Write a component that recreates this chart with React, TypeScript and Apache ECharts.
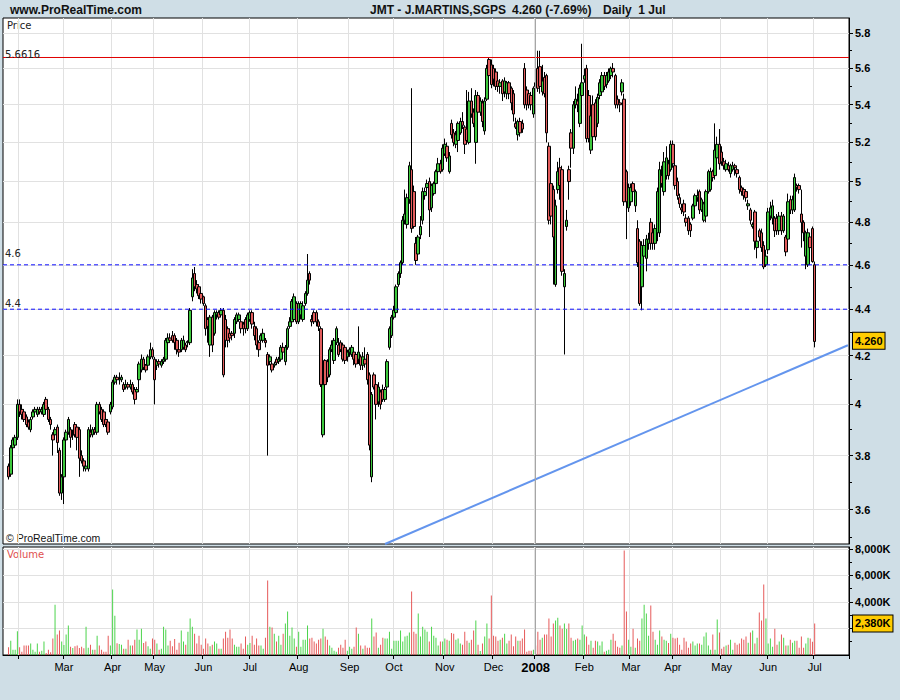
import { useEffect, useRef } from "react";
import * as echarts from "echarts";

// Daily sessions, one row each: [open, close, low, high]
const jan07 = [
  [3.76, 3.72, 3.71, 3.77], [3.73, 3.83, 3.72, 3.84], [3.83, 3.86, 3.82, 3.87], [3.84, 3.87, 3.83, 3.88], [3.87, 4.0, 3.86, 4.02],
];
const feb07 = [
  [4.0, 3.97, 3.95, 4.02], [3.98, 3.96, 3.94, 4.0], [3.97, 3.94, 3.93, 3.98], [3.95, 3.92, 3.91, 3.96], [3.93, 3.91, 3.9, 3.94],
  [3.9, 3.94, 3.89, 3.95], [3.95, 3.97, 3.94, 3.98], [3.97, 3.98, 3.96, 3.99], [3.96, 3.98, 3.95, 3.99], [3.98, 3.97, 3.96, 3.99],
  [3.97, 3.98, 3.96, 3.99], [3.96, 4.0, 3.95, 4.01], [4.02, 3.98, 3.97, 4.03], [3.98, 3.94, 3.93, 3.99], [3.94, 3.92, 3.9, 3.95],
  [3.88, 3.86, 3.8, 3.89], [3.88, 3.9, 3.86, 3.91], [3.91, 3.85, 3.81, 3.92], [3.82, 3.66, 3.65, 3.83], [3.66, 3.72, 3.635, 3.73],
];
const mar07 = [
  [3.72, 3.86, 3.62, 3.87], [3.86, 3.89, 3.84, 3.9], [3.89, 3.94, 3.88, 3.95], [3.9, 3.87, 3.83, 3.91], [3.88, 3.88, 3.86, 3.9],
  [3.92, 3.88, 3.87, 3.93], [3.91, 3.87, 3.82, 3.92], [3.9, 3.79, 3.72, 3.91], [3.8, 3.78, 3.77, 3.82], [3.78, 3.76, 3.74, 3.79],
  [3.75, 3.76, 3.74, 3.77], [3.75, 3.9, 3.74, 3.91], [3.89, 3.88, 3.87, 3.92], [3.88, 3.9, 3.87, 3.91], [3.9, 3.89, 3.88, 3.91],
  [3.89, 4.0, 3.88, 4.01], [4.0, 3.97, 3.96, 4.01], [3.98, 3.94, 3.93, 3.99], [3.97, 3.92, 3.91, 3.98], [3.94, 3.92, 3.91, 3.95],
  [3.93, 3.89, 3.88, 3.94], [3.97, 4.0, 3.96, 4.01],
];
const apr07 = [
  [3.99, 4.09, 3.98, 4.1], [4.09, 4.11, 4.08, 4.12], [4.11, 4.1, 4.08, 4.12], [4.1, 4.105, 4.08, 4.13], [4.1, 4.11, 4.09, 4.12],
  [4.08, 4.06, 4.05, 4.09], [4.07, 4.08, 4.06, 4.1], [4.08, 4.07, 4.06, 4.09], [4.07, 4.08, 4.06, 4.1], [4.08, 4.05, 4.04, 4.09],
  [4.06, 4.02, 4.0, 4.07], [4.05, 4.06, 4.04, 4.07], [4.1, 4.165, 4.06, 4.175], [4.14, 4.185, 4.13, 4.205], [4.185, 4.15, 4.14, 4.195],
  [4.16, 4.14, 4.13, 4.165], [4.16, 4.195, 4.15, 4.205], [4.195, 4.225, 4.185, 4.255], [4.225, 4.195, 4.185, 4.235],
];
const may07 = [
  [4.185, 4.1, 4.0, 4.195], [4.16, 4.175, 4.14, 4.185], [4.175, 4.165, 4.15, 4.185], [4.16, 4.175, 4.15, 4.185], [4.175, 4.185, 4.165, 4.195],
  [4.185, 4.265, 4.175, 4.275], [4.255, 4.275, 4.245, 4.295], [4.275, 4.265, 4.255, 4.295], [4.285, 4.265, 4.255, 4.305], [4.285, 4.255, 4.225, 4.295],
  [4.265, 4.225, 4.205, 4.275], [4.225, 4.215, 4.195, 4.235], [4.225, 4.265, 4.215, 4.275], [4.235, 4.265, 4.225, 4.285], [4.245, 4.225, 4.215, 4.255],
  [4.255, 4.26, 4.235, 4.265], [4.255, 4.395, 4.245, 4.405], [4.455, 4.54, 4.435, 4.58], [4.56, 4.5, 4.48, 4.59], [4.51, 4.49, 4.47, 4.53],
  [4.5, 4.46, 4.445, 4.51], [4.47, 4.445, 4.425, 4.48],
];
const jun07 = [
  [4.455, 4.425, 4.415, 4.46], [4.415, 4.315, 4.285, 4.425], [4.355, 4.325, 4.255, 4.365], [4.245, 4.365, 4.195, 4.375], [4.365, 4.245, 4.215, 4.375],
  [4.295, 4.385, 4.285, 4.395], [4.375, 4.385, 4.355, 4.395], [4.385, 4.365, 4.355, 4.395], [4.375, 4.395, 4.365, 4.405], [4.395, 4.12, 4.11, 4.405],
  [4.355, 4.265, 4.235, 4.375], [4.315, 4.265, 4.235, 4.325], [4.295, 4.275, 4.255, 4.315], [4.295, 4.285, 4.265, 4.305], [4.295, 4.355, 4.275, 4.365],
  [4.345, 4.375, 4.335, 4.385], [4.355, 4.375, 4.345, 4.385], [4.345, 4.315, 4.295, 4.365], [4.335, 4.315, 4.285, 4.345], [4.355, 4.315, 4.295, 4.365],
  [4.315, 4.375, 4.305, 4.385],
];
const jul07 = [
  [4.355, 4.385, 4.345, 4.395], [4.385, 4.335, 4.315, 4.395], [4.325, 4.285, 4.265, 4.345], [4.315, 4.245, 4.225, 4.325], [4.255, 4.225, 4.195, 4.265],
  [4.265, 4.285, 4.255, 4.295], [4.265, 4.295, 4.255, 4.315], [4.265, 4.255, 4.235, 4.275], [4.205, 4.16, 3.8, 4.215], [4.175, 4.195, 4.16, 4.205],
  [4.165, 4.14, 4.13, 4.175], [4.16, 4.165, 4.15, 4.175], [4.185, 4.17, 4.16, 4.195], [4.175, 4.185, 4.165, 4.195], [4.185, 4.235, 4.175, 4.245],
  [4.235, 4.215, 4.195, 4.255], [4.175, 4.235, 4.16, 4.245], [4.235, 4.315, 4.225, 4.325], [4.325, 4.345, 4.315, 4.365], [4.345, 4.435, 4.335, 4.445],
  [4.355, 4.455, 4.345, 4.47], [4.425, 4.345, 4.335, 4.435],
];
const aug07 = [
  [4.345, 4.425, 4.335, 4.435], [4.375, 4.425, 4.355, 4.435], [4.355, 4.415, 4.345, 4.435], [4.425, 4.47, 4.415, 4.48], [4.47, 4.53, 4.46, 4.65],
  [4.56, 4.53, 4.51, 4.57], [4.355, 4.345, 4.325, 4.375], [4.385, 4.345, 4.335, 4.395], [4.385, 4.345, 4.325, 4.395], [4.345, 4.325, 4.305, 4.355],
  [4.315, 4.08, 4.07, 4.325], [3.88, 4.08, 3.87, 4.09], [4.18, 4.08, 4.06, 4.185], [4.175, 4.11, 4.09, 4.185], [4.12, 4.225, 4.11, 4.235],
  [4.225, 4.245, 4.215, 4.265], [4.18, 4.265, 4.165, 4.275], [4.255, 4.315, 4.245, 4.325], [4.245, 4.205, 4.195, 4.275], [4.255, 4.225, 4.215, 4.265],
  [4.245, 4.185, 4.175, 4.255], [4.235, 4.18, 4.165, 4.245], [4.195, 4.215, 4.175, 4.225],
];
const sep07 = [
  [4.215, 4.225, 4.195, 4.235], [4.205, 4.235, 4.195, 4.245], [4.215, 4.185, 4.16, 4.225], [4.205, 4.165, 4.15, 4.215], [4.185, 4.215, 4.165, 4.325],
  [4.195, 4.16, 4.14, 4.205], [4.16, 4.195, 4.14, 4.215], [4.185, 4.165, 4.15, 4.235], [4.205, 4.1, 4.08, 4.215], [4.12, 3.84, 3.82, 4.13],
  [3.72, 4.04, 3.7, 4.05], [4.12, 4.07, 4.06, 4.13], [4.08, 4.0, 3.94, 4.09], [4.01, 4.07, 3.99, 4.09], [4.05, 4.0, 3.98, 4.06],
  [4.06, 4.02, 4.01, 4.08], [4.02, 4.06, 4.01, 4.07], [4.07, 4.175, 4.06, 4.185], [4.235, 4.315, 4.225, 4.325], [4.285, 4.365, 4.275, 4.375],
];
const oct07 = [
  [4.365, 4.395, 4.355, 4.415], [4.385, 4.5, 4.375, 4.51], [4.51, 4.56, 4.5, 4.57], [4.56, 4.61, 4.54, 4.62], [4.61, 4.81, 4.6, 4.83],
  [4.81, 4.84, 4.79, 4.96], [4.79, 4.92, 4.77, 4.94], [4.91, 5.08, 4.89, 5.1], [5.06, 4.77, 4.75, 5.49], [4.95, 4.78, 4.77, 4.98],
  [4.7, 4.62, 4.6, 4.73], [4.65, 4.73, 4.63, 4.74], [4.74, 4.78, 4.72, 4.83], [4.81, 4.95, 4.79, 4.97], [4.93, 4.95, 4.91, 4.97],
  [4.97, 4.99, 4.95, 5.01], [5.0, 4.86, 4.73, 5.02], [4.87, 4.98, 4.85, 4.99], [4.94, 4.99, 4.93, 5.0], [4.99, 5.05, 4.98, 5.06],
  [5.05, 5.09, 5.03, 5.12], [5.09, 5.05, 5.04, 5.11], [5.06, 5.17, 5.05, 5.19],
];
const nov07 = [
  [5.14, 5.19, 5.13, 5.22], [5.18, 5.12, 5.1, 5.2], [5.05, 5.13, 5.04, 5.15], [5.3, 5.24, 5.22, 5.32], [5.25, 5.2, 5.18, 5.27],
  [5.19, 5.24, 5.17, 5.26], [5.21, 5.3, 5.15, 5.31], [5.25, 5.31, 5.24, 5.33], [5.31, 5.29, 5.27, 5.36], [5.28, 5.19, 5.14, 5.29],
  [5.27, 5.21, 5.19, 5.48], [5.2, 5.42, 5.19, 5.47], [5.42, 5.35, 5.33, 5.49], [5.36, 5.3, 5.28, 5.38], [5.2, 5.45, 5.09, 5.48],
  [5.45, 5.36, 5.34, 5.47], [5.36, 5.42, 5.34, 5.44], [5.41, 5.31, 5.28, 5.43], [5.26, 5.42, 5.24, 5.44], [5.43, 5.6, 5.42, 5.62],
  [5.65, 5.56, 5.54, 5.66], [5.62, 5.51, 5.49, 5.65],
];
const dec07 = [
  [5.6, 5.54, 5.5, 5.62], [5.58, 5.5, 5.48, 5.6], [5.53, 5.5, 5.47, 5.55], [5.5, 5.52, 5.46, 5.54], [5.53, 5.46, 5.42, 5.54],
  [5.47, 5.53, 5.44, 5.55], [5.46, 5.52, 5.43, 5.53], [5.52, 5.46, 5.43, 5.53], [5.49, 5.41, 5.37, 5.5], [5.46, 5.35, 5.31, 5.48],
  [5.3, 5.28, 5.27, 5.33], [5.24, 5.31, 5.21, 5.32], [5.31, 5.25, 5.23, 5.33], [5.3, 5.27, 5.25, 5.32], [5.6, 5.4, 5.38, 5.63],
  [5.48, 5.4, 5.37, 5.5], [5.46, 5.4, 5.38, 5.48], [5.45, 5.4, 5.37, 5.47], [5.35, 5.49, 5.33, 5.5],
];
const jan08 = [
  [5.52, 5.5, 5.48, 5.56], [5.6, 5.49, 5.47, 5.7], [5.61, 5.5, 5.46, 5.7], [5.47, 5.53, 5.45, 5.62], [5.55, 5.46, 5.44, 5.58],
  [5.56, 5.25, 5.2, 5.57], [5.18, 4.81, 4.79, 5.2], [4.99, 4.83, 4.79, 5.03], [4.96, 4.73, 4.51, 4.98], [4.51, 4.88, 4.5, 4.91],
  [4.96, 5.05, 4.94, 5.1], [5.07, 4.98, 4.91, 5.12], [5.06, 4.57, 4.55, 5.08], [4.5, 4.56, 4.205, 4.58], [4.78, 4.81, 4.76, 4.86],
  [5.06, 5.0, 4.91, 5.08], [5.25, 5.17, 5.07, 5.27], [5.17, 5.4, 5.14, 5.42], [5.4, 5.43, 5.38, 5.5], [5.42, 5.4, 5.36, 5.46],
  [5.3, 5.49, 5.28, 5.51], [5.45, 5.52, 5.43, 5.74],
];
const feb08 = [
  [5.54, 5.56, 5.52, 5.6], [5.6, 5.22, 5.2, 5.62], [5.45, 5.22, 5.2, 5.48], [5.16, 5.34, 5.14, 5.36], [5.4, 5.23, 5.2, 5.45],
  [5.41, 5.23, 5.21, 5.43], [5.3, 5.44, 5.28, 5.46], [5.45, 5.52, 5.43, 5.54], [5.47, 5.56, 5.45, 5.58], [5.56, 5.5, 5.48, 5.58],
  [5.51, 5.56, 5.49, 5.58], [5.53, 5.58, 5.52, 5.6], [5.56, 5.6, 5.54, 5.61], [5.6, 5.58, 5.55, 5.63], [5.56, 5.4, 5.38, 5.57],
  [5.43, 5.4, 5.38, 5.45], [5.41, 5.4, 5.36, 5.43], [5.47, 5.52, 5.45, 5.54], [5.43, 4.9, 4.88, 5.46], [5.05, 4.9, 4.72, 5.06],
  [4.87, 4.97, 4.85, 4.99],
];
const mar08 = [
  [4.9, 4.97, 4.88, 4.99], [4.99, 4.95, 4.93, 5.0], [4.88, 4.95, 4.85, 4.96], [4.77, 4.61, 4.59, 4.81], [4.71, 4.425, 4.415, 4.72],
  [4.5, 4.69, 4.395, 4.71], [4.64, 4.69, 4.59, 4.72], [4.63, 4.72, 4.57, 4.74], [4.7, 4.72, 4.67, 4.75], [4.8, 4.7, 4.67, 4.82],
  [4.75, 4.7, 4.67, 4.76], [4.7, 4.77, 4.67, 4.79], [4.75, 4.95, 4.71, 4.97], [4.75, 5.06, 4.73, 5.1], [5.03, 4.99, 4.97, 5.08],
  [4.95, 5.1, 4.93, 5.15], [5.03, 5.12, 5.01, 5.18], [5.09, 5.03, 5.01, 5.11], [5.06, 5.19, 5.05, 5.21],
];
const apr08 = [
  [5.19, 5.09, 5.07, 5.21], [5.08, 4.98, 4.96, 5.1], [5.0, 4.93, 4.91, 5.02], [4.92, 4.89, 4.87, 4.94], [4.87, 4.86, 4.84, 4.89],
  [4.89, 4.85, 4.83, 4.91], [4.82, 4.8, 4.78, 4.84], [4.82, 4.76, 4.74, 4.83], [4.79, 4.76, 4.73, 4.8], [4.82, 4.88, 4.81, 4.89],
  [4.88, 4.93, 4.87, 4.94], [4.92, 4.93, 4.9, 4.96], [4.95, 4.86, 4.84, 4.96], [4.86, 4.91, 4.85, 4.92], [4.81, 4.89, 4.8, 4.9],
  [4.83, 4.95, 4.8, 4.96], [4.95, 5.05, 4.94, 5.06], [4.96, 5.05, 4.95, 5.07], [5.05, 5.02, 5.0, 5.06], [5.03, 5.16, 5.01, 5.3],
  [5.12, 5.19, 5.11, 5.23], [5.19, 5.09, 5.06, 5.27],
];
const may08 = [
  [5.15, 5.1, 5.08, 5.18], [5.1, 5.08, 5.06, 5.12], [5.06, 5.09, 5.05, 5.11], [5.08, 5.06, 5.05, 5.1], [5.04, 5.08, 5.02, 5.09],
  [5.06, 5.08, 5.05, 5.1], [5.08, 5.07, 5.03, 5.09], [5.06, 5.04, 5.02, 5.07], [5.02, 4.96, 4.94, 5.03], [4.97, 4.95, 4.93, 4.98],
  [4.96, 4.93, 4.91, 4.97], [4.95, 4.92, 4.9, 4.96], [4.88, 4.89, 4.86, 4.91], [4.86, 4.81, 4.79, 4.87], [4.78, 4.79, 4.77, 4.8],
  [4.85, 4.71, 4.67, 4.86], [4.68, 4.71, 4.63, 4.73], [4.76, 4.73, 4.71, 4.77], [4.75, 4.68, 4.66, 4.77], [4.69, 4.59, 4.58, 4.71],
  [4.6, 4.64, 4.59, 4.67],
];
const jun08 = [
  [4.67, 4.85, 4.65, 4.87], [4.83, 4.87, 4.81, 4.9], [4.82, 4.88, 4.79, 4.91], [4.82, 4.76, 4.73, 4.83], [4.82, 4.76, 4.74, 4.84],
  [4.76, 4.83, 4.74, 4.85], [4.83, 4.76, 4.74, 4.85], [4.76, 4.83, 4.75, 4.84], [4.73, 4.66, 4.64, 4.74], [4.72, 4.9, 4.71, 4.94],
  [4.91, 4.86, 4.84, 4.93], [4.86, 4.91, 4.84, 4.93], [4.86, 5.02, 4.85, 5.04], [4.98, 4.97, 4.95, 4.99], [4.98, 4.96, 4.94, 4.99],
  [4.84, 4.8, 4.68, 4.96], [4.8, 4.75, 4.71, 4.81], [4.64, 4.75, 4.58, 4.76], [4.6, 4.75, 4.59, 4.77], [4.73, 4.68, 4.66, 4.74],
  [4.77, 4.615, 4.61, 4.78],
];
const jul08 = [[4.6, 4.26, 4.235, 4.615]];

// Session volumes, thousands of shares
const volJan07 = [580, 1080, 400, 400, 1790];
const volFeb07 = [580, 250, 710, 710, 710, 860, 400, 250, 860, 250, 330, 1010, 150, 400, 200, 1240, 3800, 1540, 1840, 1010];
const volMar07 = [760, 1540, 2220, 630, 530, 660, 710, 530, 630, 500, 2140, 550, 780, 400, 400, 1460, 710, 400, 250, 250, 1460, 710];
const volApr07 = [4940, 2970, 880, 830, 780, 480, 480, 1160, 710, 710, 1160, 1920, 1160, 1990, 910, 1010, 660, 480, 1240];
const volMay07 = [1160, 860, 400, 480, 2140, 1920, 710, 1080, 660, 1210, 400, 930, 1840, 1010, 780, 1760, 2750, 2140, 1610, 860, 1460, 780];
const volJun07 = [480, 1240, 860, 660, 780, 1010, 860, 480, 480, 1240, 1760, 1310, 1920, 1240, 780, 630, 630, 860, 480, 1390, 780];
const volJul07 = [910, 1460, 780, 1240, 710, 710, 480, 1310, 5620, 2140, 2070, 1610, 1010, 1460, 780, 1610, 2370, 3280, 1460, 2070, 1240, 630];
const volAug07 = [1760, 630, 1160, 1160, 2220, 1240, 1310, 1010, 860, 1160, 1240, 1990, 1390, 1160, 710, 550, 330, 250, 550, 780, 550, 1160, 330];
const volSep07 = [630, 480, 630, 2070, 1610, 710, 480, 710, 550, 550, 2750, 1390, 1690, 550, 780, 1310, 1240, 1240, 1760, 480];
const volOct07 = [1080, 1080, 1080, 1840, 1010, 1390, 1460, 1690, 4790, 1760, 1610, 3130, 1390, 2140, 1920, 1760, 1010, 2140, 1460, 1310, 710, 1010, 1010];
const volNov07 = [1240, 1160, 1080, 1660, 1610, 1160, 1240, 860, 780, 1760, 1080, 930, 1160, 1840, 2600, 780, 300, 860, 1390, 2370, 1240, 4490];
const volDec07 = [1460, 1390, 1080, 1160, 1310, 1610, 860, 1080, 1540, 660, 1390, 1080, 1080, 1240, 1920, 250, 330, 330, 400];
const volJan08 = [710, 1760, 1160, 1310, 1540, 1540, 2750, 1390, 2370, 2600, 2820, 2220, 1990, 2370, 1970, 2370, 1310, 1080, 1160, 1240, 1160, 2220];
const volFeb08 = [1540, 1390, 780, 1080, 550, 1080, 1010, 710, 1010, 250, 330, 400, 1160, 1610, 1080, 630, 550, 710, 7890, 3280, 1160];
const volMar08 = [630, 1990, 550, 1240, 1080, 2750, 3800, 3130, 1460, 3730, 1760, 1160, 780, 1840, 1390, 1160, 1080, 910, 1610];
const volApr08 = [1310, 1240, 1310, 780, 400, 1310, 1010, 550, 860, 1010, 710, 860, 860, 780, 1390, 1690, 710, 400, 1540, 400, 2670, 1690];
const volMay08 = [480, 630, 710, 780, 1160, 400, 930, 780, 860, 1240, 1160, 1390, 930, 1690, 1840, 860, 1310, 3200, 2600, 5320, 2750];
const volJun08 = [860, 1240, 630, 1990, 780, 1010, 1540, 1310, 710, 710, 1160, 930, 1080, 1080, 550, 1390, 550, 860, 1310, 1240, 1000];
const volJul08 = [2380];

// Trading calendar
const firstSession = "2007-01-23";
const blankBefore = 2;
const blankAfter = 15;
const holidays = ["2007-04-06", "2007-04-09", "2007-05-01", "2007-12-25", "2007-12-26", "2008-01-01", "2008-03-21", "2008-03-24", "2008-05-01"];
const monthNames = ["Jan", "Feb", "Mar", "Apr", "May", "Jun", "Jul", "Aug", "Sep", "Oct", "Nov", "Dec"];

// Axes and reference levels
const priceRange = [3.478, 5.89];
const priceTicks = [3.6, 3.8, 4, 4.2, 4.4, 4.6, 4.8, 5, 5.2, 5.4, 5.6, 5.8];
const priceMinorTicks = [3.5, 3.7, 3.9, 4.1, 4.3, 4.5, 4.7, 4.9, 5.1, 5.3, 5.5, 5.7];
const volumeMax = 8150;
const volumeTicks = [2000, 4000, 6000, 8000];
const volumeLabels = [4000, 6000, 8000];
const volumeMinorTicks = [1000, 3000, 5000, 7000];
const supportLevels = [4.6, 4.4];
const recordLevel = 5.6616;
const trendDates = ["2007-09-25", "2008-07-22"];
const trendValues = [3.478, 4.244];
const yearMark = "2008-01-02";

const candles = [jan07, feb07, mar07, apr07, may07, jun07, jul07, aug07, sep07, oct07, nov07, dec07, jan08, feb08, mar08, apr08, may08, jun08, jul08].flat();
const volumes = [volJan07, volFeb07, volMar07, volApr07, volMay07, volJun07, volJul07, volAug07, volSep07, volOct07, volNov07, volDec07, volJan08, volFeb08, volMar08, volApr08, volMay08, volJun08, volJul08].flat();

function tradingDays(start: string, count: number): string[] {
  const out: string[] = [];
  const d = new Date(start + "T00:00:00Z");
  while (out.length < count) {
    const wd = d.getUTCDay();
    const iso = d.toISOString().slice(0, 10);
    if (wd !== 0 && wd !== 6 && !holidays.includes(iso)) out.push(iso);
    d.setUTCDate(d.getUTCDate() + 1);
  }
  return out;
}

const GREEN = "#3cc83c";
const RED = "#e25c5c";
const VOL_GREEN = "#4cd44c";
const VOL_RED = "#e65a5a";
const GRID = "#e1e1e1";
const LEVEL_BLUE = "#1010ff";
const RECORD_RED = "#e00000";
const YEAR_GREY = "#a6a6a6";
const CLEAR = "rgba(0,0,0,0)";
const ln = Math.log;

export default function App() {
  const ref = useRef<HTMLDivElement>(null);

  useEffect(() => {
    if (!ref.current) return;
    const chart = echarts.init(ref.current, undefined, { renderer: "svg" });

    const dates = tradingDays(firstSession, blankBefore + candles.length + blankAfter);
    const firstDate = dates[0];
    const lastCategory = dates[dates.length - 1];
    const monthStart = new Set<number>();
    for (let i = 1; i < dates.length; i++) {
      if (dates[i].slice(5, 7) !== dates[i - 1].slice(5, 7)) monthStart.add(i);
    }
    const isMonthStart = (i: number) => monthStart.has(i);
    const isLabelled = (i: number) => monthStart.has(i) && i > 10;

    const candleData = candles.map((c, k) => [k + blankBefore, ln(c[0]), ln(c[1]), ln(c[2]), ln(c[3])]);
    const volumeData = volumes.map((v, k) => {
      const c = candles[k];
      return {
        value: [k + blankBefore, v],
        itemStyle: { color: c && c[1] >= c[0] ? VOL_GREEN : VOL_RED },
      };
    });

    const last = candles[candles.length - 1];
    const prev = candles[candles.length - 2];
    const lastClose = last[1];
    const change = (lastClose / prev[1] - 1) * 100;
    const lastVolume = volumes[volumes.length - 1];
    const lastDate = dates[blankBefore + candles.length - 1];
    const lastDay = `${Number(lastDate.slice(8, 10))} ${monthNames[Number(lastDate.slice(5, 7)) - 1]}`;
    const fmtK = (v: number) => `${v.toLocaleString("en-US")}K`;

    const smallFont = "DejaVu Sans";
    const axisFont = "Liberation Sans, Arial, sans-serif";

    const boldLabel = {
      fontFamily: axisFont,
      fontSize: 11,
      fontWeight: "bold" as const,
      color: "#000",
    };

    const badge = (text: string) => ({
      show: true,
      position: "end",
      distance: 4,
      formatter: text,
      backgroundColor: "#ffcc00",
      borderColor: "#000",
      borderWidth: 1,
      padding: [3, 2, 2, 2],
      ...boldLabel,
    });

    // A horizontal reference level: its own two-point line, captioned at the left edge
    const levelSeries = (value: number, color: string, dash: any, text: string) => ({
      type: "line",
      xAxisIndex: 0,
      yAxisIndex: 0,
      silent: true,
      symbol: "none",
      z: 3,
      color,
      lineStyle: { color, width: 1, type: dash },
      data: [
        [firstDate, ln(value)],
        [lastCategory, ln(value)],
      ],
      markLine: {
        silent: true,
        symbol: ["none", "none"],
        animation: false,
        lineStyle: { color: CLEAR, width: 1 },
        data: [
          {
            yAxis: ln(value),
            label: {
              show: true,
              position: "insideStartTop",
              distance: 2,
              formatter: text,
              fontFamily: smallFont,
              fontSize: 10,
              color: "#222",
            },
          },
        ],
      },
    });

    const option: any = {
      animation: false,
      backgroundColor: "#cfdee6",
      textStyle: { fontFamily: axisFont },
      grid: [
        { left: 3, right: 51, top: 18, height: 526, show: true, backgroundColor: "#fff", borderColor: "#000", borderWidth: 1 },
        { left: 3, right: 51, top: 547, height: 108, show: true, backgroundColor: "#fff", borderColor: "#000", borderWidth: 1 },
      ],
      xAxis: [
        {
          type: "category",
          gridIndex: 0,
          data: dates,
          boundaryGap: false,
          axisLine: { show: false },
          axisTick: { show: false },
          axisLabel: { show: false },
          splitLine: { show: false },
        },
        {
          type: "category",
          gridIndex: 1,
          data: dates,
          boundaryGap: true,
          axisLine: { show: true, lineStyle: { color: "#000" } },
          axisTick: { show: true, interval: (i: number) => isMonthStart(i), length: 4, lineStyle: { color: "#000" } },
          axisLabel: {
            show: true,
            interval: (i: number) => isLabelled(i),
            margin: 6,
            fontFamily: axisFont,
            fontSize: 11,
            color: "#000",
            formatter: (v: string) => {
              const m = Number(v.slice(5, 7));
              return m === 1 ? `{y|${v.slice(0, 4)}}` : monthNames[m - 1];
            },
            rich: { y: { fontFamily: axisFont, fontSize: 13, fontWeight: "bold", color: "#000" } },
          },
          splitLine: { show: true, interval: (i: number) => isMonthStart(i), lineStyle: { color: GRID, width: 1 } },
        },
        {
          type: "category",
          gridIndex: 0,
          data: dates,
          boundaryGap: true,
          axisLine: { show: false },
          axisTick: { show: false },
          axisLabel: { show: false },
          splitLine: { show: true, interval: (i: number) => isMonthStart(i), lineStyle: { color: GRID, width: 1 } },
        },
      ],
      yAxis: [
        {
          type: "value",
          gridIndex: 0,
          position: "right",
          min: ln(priceRange[0]),
          max: ln(priceRange[1]),
          axisLine: { show: true, lineStyle: { color: "#000" } },
          axisTick: { show: true, length: 4, customValues: priceTicks.map(ln), lineStyle: { color: "#000" } },
          axisLabel: {
            show: true,
            margin: 6,
            customValues: priceTicks.map(ln),
            formatter: (v: number) => String(Math.round(Math.exp(v) * 10) / 10),
            ...boldLabel,
          },
          splitLine: { show: true, lineStyle: { color: GRID, width: 1 } },
        },
        {
          type: "value",
          gridIndex: 0,
          position: "right",
          min: ln(priceRange[0]),
          max: ln(priceRange[1]),
          axisLine: { show: false },
          axisTick: { show: true, length: 3, customValues: priceMinorTicks.map(ln), lineStyle: { color: "#000" } },
          axisLabel: { show: false },
          splitLine: { show: false },
        },
        {
          type: "value",
          gridIndex: 1,
          position: "right",
          min: 0,
          max: volumeMax,
          axisLine: { show: true, lineStyle: { color: "#000" } },
          axisTick: { show: true, length: 4, customValues: volumeTicks, lineStyle: { color: "#000" } },
          axisLabel: { show: true, margin: 6, customValues: volumeLabels, formatter: (v: number) => fmtK(v), ...boldLabel },
          splitLine: { show: true, lineStyle: { color: GRID, width: 1 } },
        },
        {
          type: "value",
          gridIndex: 1,
          position: "right",
          min: 0,
          max: volumeMax,
          axisLine: { show: false },
          axisTick: { show: true, length: 3, customValues: volumeMinorTicks, lineStyle: { color: "#000" } },
          axisLabel: { show: false },
          splitLine: { show: false },
        },
      ],
      series: [
        {
          name: "JMT",
          type: "candlestick",
          xAxisIndex: 2,
          yAxisIndex: 0,
          barWidth: 3,
          encode: { x: 0, y: [1, 2, 3, 4] },
          data: candleData,
          itemStyle: {
            color: GREEN,
            color0: RED,
            borderColor: "#000",
            borderColor0: "#000",
            borderColorDoji: "#000",
            borderWidth: 1,
          },
        },
        {
          name: "Trend",
          type: "line",
          xAxisIndex: 2,
          yAxisIndex: 0,
          symbol: "none",
          silent: true,
          clip: true,
          z: 1,
          lineStyle: { color: "#6495ed", width: 2 },
          data: trendDates.map((d, k) => [d, ln(trendValues[k])]),
          markLine: {
            silent: true,
            symbol: ["none", "none"],
            animation: false,
            lineStyle: { color: YEAR_GREY, width: 1, type: "solid" },
            label: { show: false },
            data: [{ xAxis: yearMark }],
          },
        },
        levelSeries(recordLevel, RECORD_RED, "solid", String(recordLevel)),
        ...supportLevels.map((lv) => levelSeries(lv, LEVEL_BLUE, [4, 3], String(lv))),
        {
          name: "Last",
          type: "line",
          xAxisIndex: 2,
          yAxisIndex: 0,
          silent: true,
          symbol: "none",
          lineStyle: { opacity: 0 },
          data: [[lastDate, ln(lastClose)]],
          markLine: {
            silent: true,
            symbol: ["none", "none"],
            animation: false,
            lineStyle: { color: CLEAR, width: 1 },
            data: [{ yAxis: ln(lastClose), label: badge(lastClose.toFixed(3)) }],
          },
        },
        {
          name: "Volume",
          type: "bar",
          xAxisIndex: 1,
          yAxisIndex: 2,
          barWidth: 1,
          encode: { x: 0, y: 1 },
          data: volumeData,
          markLine: {
            silent: true,
            symbol: ["none", "none"],
            animation: false,
            data: [
              {
                xAxis: yearMark,
                lineStyle: { color: YEAR_GREY, width: 1, type: "solid" },
                label: { show: false },
              },
              {
                yAxis: lastVolume,
                lineStyle: { color: CLEAR, width: 1 },
                label: badge(fmtK(lastVolume)),
              },
            ],
          },
        },
      ],
      graphic: [
        { type: "text", left: 10, top: 4, style: { text: "www.ProRealTime.com", font: `bold 12px ${axisFont}`, fill: "#111" } },
        { type: "text", left: 370, top: 4, style: { text: "JMT - J.MARTINS,SGPS", font: `bold 12px ${axisFont}`, fill: "#111" } },
        {
          type: "text",
          left: 512,
          top: 4,
          style: { text: `${lastClose.toFixed(3)} (${change.toFixed(2)}%)`, font: `bold 12px ${axisFont}`, fill: "#111" },
        },
        { type: "text", left: 603, top: 4, style: { text: `Daily  ${lastDay}`, font: `bold 12px ${axisFont}`, fill: "#111" } },
        { type: "text", left: 7, top: 20, style: { text: "Price", font: `10px ${smallFont}`, fill: "#222" } },
        { type: "text", left: 6, top: 532, style: { text: "© ProRealTime.com", font: `10.5px ${axisFont}`, fill: "#111" } },
        { type: "text", left: 7, top: 549, style: { text: "Volume", font: `10px ${smallFont}`, fill: "#e05050" } },
      ],
    };

    chart.setOption(option);
    return () => chart.dispose();
  }, []);

  return <div ref={ref} style={{ position: "fixed", left: 0, top: 0, width: 900, height: 700 }} />;
}
